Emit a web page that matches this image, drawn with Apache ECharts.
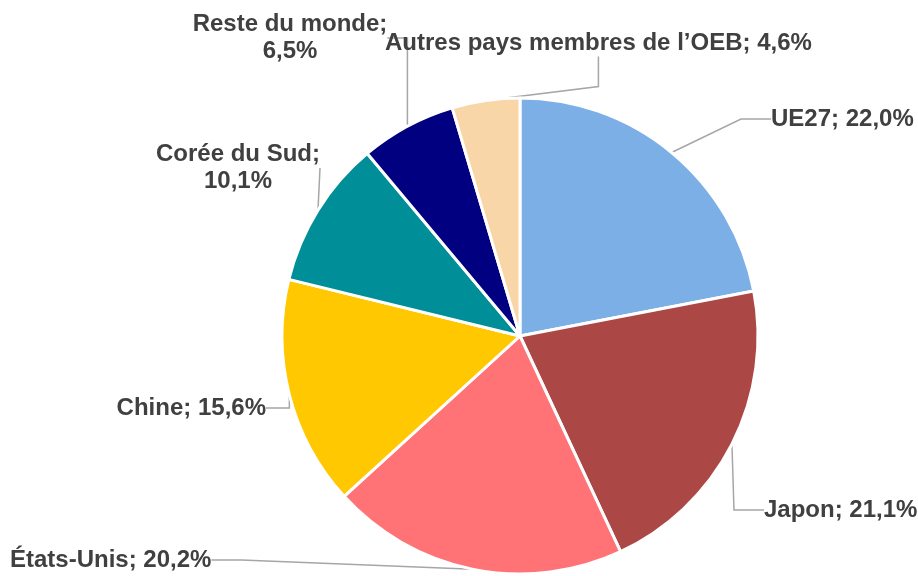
<!DOCTYPE html>
<html>
<head>
<meta charset="utf-8">
<script src="https://cdn.jsdelivr.net/npm/echarts@6/dist/echarts.min.js"></script>
<style>
  html, body { margin: 0; padding: 0; background: #fff; }
  #chart { width: 918px; height: 576px; }
</style>
</head>
<body>
<div id="chart"></div>
<script>
// données
var categories = ['UE27', 'Japon', 'États-Unis', 'Chine', 'Corée du Sud', 'Reste du monde', 'Autres pays membres de l’OEB'];
var values = [22.0, 21.1, 20.2, 15.6, 10.1, 6.5, 4.6];
var colors = ['#7cafe6', '#ab4845', '#ff7377', '#ffc800', '#008f98', '#000080', '#f9d6a8'];
var wrapped = ['Corée du Sud', 'Reste du monde'];

// position des étiquettes (x, y, alignement)
var labelPos = [
  [771, 119, 'left'],
  [764, 510, 'left'],
  [10, 560, 'left'],
  [266, 408, 'right'],
  [238, 168, 'center'],
  [290, 38, 'center'],
  [385, 43, 'left']
];

var myChart = echarts.init(document.getElementById('chart'));

var option = {
  animation: false,
  color: colors,
  series: [
    {
      type: 'pie',
      center: [520, 336],
      radius: 238,
      startAngle: 90,
      clockwise: true,
      data: categories.map(function (c, i) { return { name: c, value: values[i] }; }),
      itemStyle: {
        borderColor: '#ffffff',
        borderWidth: 3
      },
      label: {
        show: true,
        position: 'outside',
        overflow: 'none',
        color: '#404040',
        fontFamily: '"Liberation Sans", Arial, sans-serif',
        fontWeight: 'bold',
        fontSize: 24,
        lineHeight: 27,
        formatter: function (p) {
          var v = p.value.toFixed(1).replace('.', ',') + '%';
          var sep = wrapped.indexOf(p.name) >= 0 ? ';\n' : '; ';
          return p.name + sep + v;
        }
      },
      labelLine: {
        show: true,
        lineStyle: { color: '#a6a6a6', width: 1.5 }
      },
      labelLayout: function (params) {
        var pos = labelPos[params.dataIndex];
        return {
          x: pos[0],
          y: pos[1],
          align: pos[2],
          verticalAlign: 'middle'
        };
      }
    }
  ]
};

myChart.setOption(option);
</script>
</body>
</html>
